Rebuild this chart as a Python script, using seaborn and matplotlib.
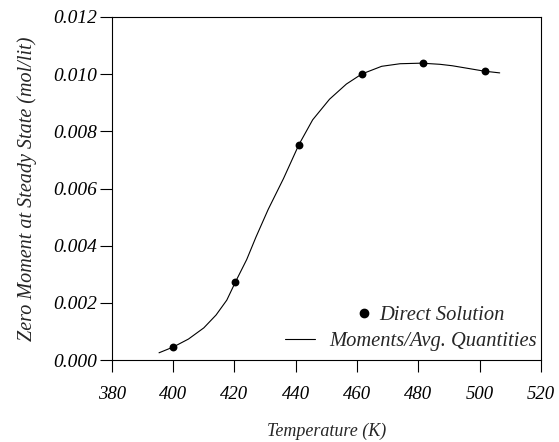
import numpy as np
import pandas as pd
import matplotlib
matplotlib.use("Agg")
import matplotlib.pyplot as plt
import seaborn as sns

# ===================== DATA =====================
# direct solution (points)
temp_pts = [400, 420.3, 441, 461.5, 481.4, 501.6]
moment_pts = [0.00046, 0.00273, 0.00753, 0.01000, 0.01038, 0.0101]

# moments / avg. quantities (curve)
temp_curve = [395.4, 400, 405, 410, 414, 417.5, 420.3, 424, 427, 431, 436,
              441, 445.5, 451, 456.5, 461.5, 468, 474, 481, 487, 491, 496,
              501.5, 506.5]
moment_curve = [0.00026, 0.00046, 0.00074, 0.00113, 0.00158, 0.0021,
                0.00273, 0.00352, 0.0043, 0.00527, 0.00635, 0.00753,
                0.0084, 0.00912, 0.00965, 0.0100, 0.01027, 0.01036,
                0.01038, 0.01034, 0.01029, 0.0102, 0.0101, 0.01004]

x_ticks = [380, 400, 420, 440, 460, 480, 500, 520]
y_ticks = [0.000, 0.002, 0.004, 0.006, 0.008, 0.010, 0.012]

df_pts = pd.DataFrame({"T": temp_pts, "M": moment_pts})
df_curve = pd.DataFrame({"T": temp_curve, "M": moment_curve})

# ===================== PLOT =====================
sns.set_theme(style="ticks")
plt.rcParams['font.family'] = ['Liberation Serif', 'DejaVu Serif']
plt.rcParams['font.style'] = 'italic'

fig = plt.figure(figsize=(5.59, 4.42), dpi=100)
ax = fig.add_axes([0.200, 0.185, 0.768, 0.777])

sns.lineplot(data=df_curve, x="T", y="M", ax=ax, color="black", linewidth=0.8,
             legend=False)
sns.scatterplot(data=df_pts, x="T", y="M", ax=ax, color="black", s=32,
                edgecolor="black", linewidth=0, legend=False, zorder=3)

ax.set_xlim(380, 520)
ax.set_ylim(0, 0.012)
ax.set_xticks(x_ticks)
ax.set_yticks(y_ticks)
ax.set_xticklabels([str(t) for t in x_ticks], fontsize=13.5, style="italic")
ax.set_yticklabels([f"{v:.3f}" for v in y_ticks], fontsize=14, style="italic")
ax.tick_params(direction="out", length=8.5, width=0.8, colors="black")
ax.tick_params(axis="x", pad=10)
ax.tick_params(axis="y", pad=2)
for sp in ax.spines.values():
    sp.set_linewidth(0.8)
    sp.set_color("black")

ax.set_xlabel("Temperature (K)", fontsize=13, labelpad=14)
ax.set_ylabel("Zero Moment at Steady State (mol/lit)", fontsize=14.5, labelpad=12)

# two one-row legends so the labels end flush right like the original
line_h = plt.Line2D([], [], color="black", linewidth=0.8)
dot_h = plt.Line2D([], [], color="black", marker="o", linestyle="", markersize=6)
leg1 = ax.legend([line_h], ["Moments/Avg. Quantities"], loc="center right",
                 bbox_to_anchor=(0.991, 0.055), frameon=False, fontsize=14.8,
                 handlelength=1.46, handletextpad=0.73, borderpad=0,
                 borderaxespad=0)
ax.add_artist(leg1)
ax.legend([dot_h], ["Direct Solution"], loc="center right",
          bbox_to_anchor=(0.916, 0.131), frameon=False, fontsize=14.8,
          handlelength=0.5, handletextpad=0.5, borderpad=0, borderaxespad=0)

fig.savefig("out.png", dpi=100)
